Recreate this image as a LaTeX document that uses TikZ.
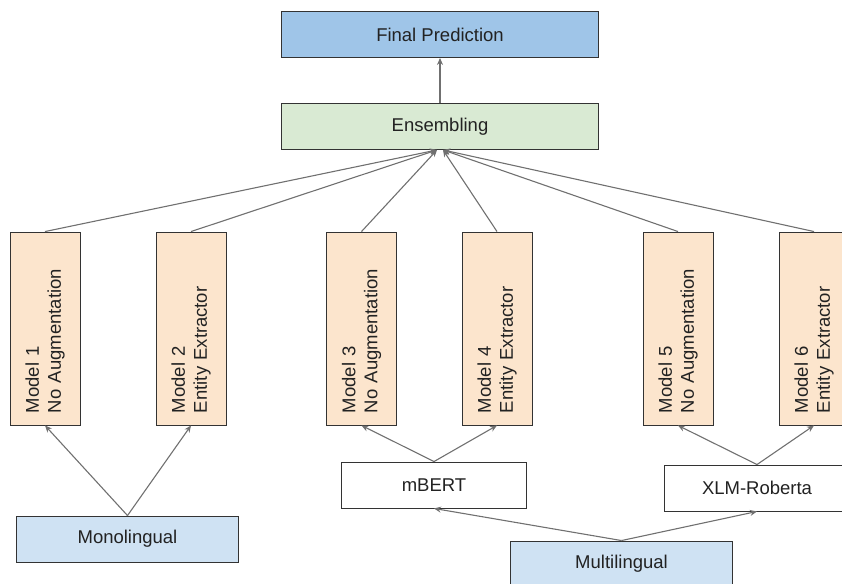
\documentclass[tikz,border=0pt]{standalone}
\usepackage{fontspec}
\setmainfont{Liberation Sans}
\usetikzlibrary{arrows.meta,calc}
\definecolor{bluetwo}{HTML}{9FC5E8}
\definecolor{bluethree}{HTML}{CFE2F3}
\definecolor{greenthree}{HTML}{D9EAD3}
\definecolor{orangethree}{HTML}{FCE5CD}
\definecolor{edgegray}{HTML}{333333}
\definecolor{arrowgray}{HTML}{707070}
\definecolor{textcol}{HTML}{222222}
\begin{document}
\begin{tikzpicture}[x=1pt,y=-1pt,
  box/.style={draw=edgegray, line width=0.9pt, inner sep=0pt, text=textcol,
    font=\fontsize{18.5}{22}\selectfont},
  wide/.style={box, minimum width=317pt, minimum height=46pt},
  lang/.style={box, fill=bluethree, minimum width=222pt, minimum height=46pt},
  enc/.style={box, fill=white, minimum width=185pt, minimum height=46pt},
  model/.style={box, fill=orangethree, rotate=90, minimum width=193pt,
    minimum height=70pt, text width=169pt, align=left, inner xsep=12pt},
  conn/.style={draw=arrowgray, line width=1.1pt,
    -{Stealth[length=7pt,width=6pt]}}
]
\useasboundingbox (0,0) rectangle (842,583);
\node[wide, fill=bluetwo] (fp) at (440,34.5) {Final Prediction};
\node[wide, fill=greenthree] (ens) at (440,126.5) {Ensembling};
\coordinate (ensL) at ($(ens.south)+(-3,0)$);
\coordinate (ensR) at ($(ens.south)+(3,0)$);

\node[model] (m1) at (45,328.5) {Model 1\\No Augmentation};
\node[model] (m2) at (191,328.5) {Model 2\\Entity Extractor};
\node[model] (m3) at (361.5,328.5) {Model 3\\No Augmentation};
\node[model] (m4) at (497,328.5) {Model 4\\Entity Extractor};
\node[model] (m5) at (678,328.5) {Model 5\\No Augmentation};
\node[model] (m6) at (814,328.5) {Model 6\\Entity Extractor};

\node[lang] (mono) at (127.5,539) {Monolingual};
\node[enc] (mbert) at (434,485) {mBERT};
\node[enc] (xlm) at (757,488) {XLM-Roberta};
\node[lang] (multi) at (621.5,564) {Multilingual};

\draw[conn] (ens.north) -- (fp.south);
\draw[conn] (m1.east) -- (ensL);
\draw[conn] (m2.east) -- (ensL);
\draw[conn] (m3.east) -- (ensL);
\draw[conn] (m4.east) -- (ensR);
\draw[conn] (m5.east) -- (ensR);
\draw[conn] (m6.east) -- (ensR);

\draw[conn] (mono.north) -- (m1.west);
\draw[conn] (mono.north) -- (m2.west);
\draw[conn] (mbert.north) -- (m3.west);
\draw[conn] (mbert.north) -- (m4.west);
\draw[conn] (xlm.north) -- (m5.west);
\draw[conn] (xlm.north) -- (m6.west);
\draw[conn] (multi.north) -- (mbert.south);
\draw[conn] (multi.north) -- (xlm.south);
\end{tikzpicture}
\end{document}
